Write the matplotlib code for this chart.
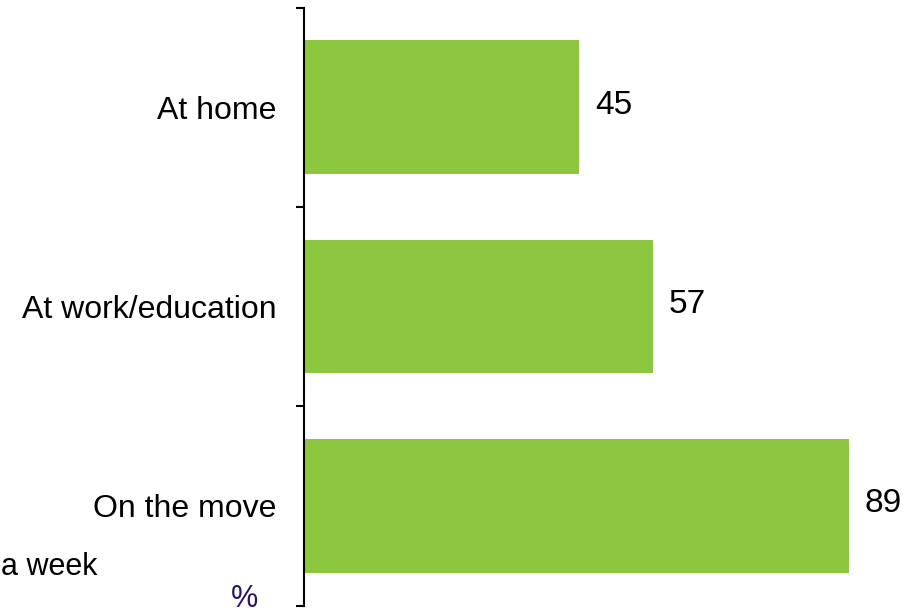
import matplotlib
matplotlib.use("Agg")
import matplotlib.pyplot as plt
import matplotlib.transforms as mtransforms
import numpy as np

# share of people using it in each place
places = ["At home", "At work/education", "On the move"]
shares = [45, 57, 89]

bar_green = "#8dc63f"
note_purple = "#2b1464"

plt.rcParams["font.family"] = ["Liberation Sans", "DejaVu Sans"]

fig = plt.figure(figsize=(9.2, 6.13), dpi=100)
ax = fig.add_axes([304 / 920, 7.5 / 613, 612 / 920, 598 / 613])

ypos = np.arange(len(places))
ax.barh(ypos, shares, height=0.67, color=bar_green, edgecolor="none")

for y, v in zip(ypos, shares):
    ax.annotate(str(v), xy=(v, y), xytext=(11.5, 1.5), textcoords="offset points",
                ha="left", va="center", fontsize=24, color="black")

ax.set_xlim(0, 100)
ax.set_ylim(len(places) - 0.5, -0.5)

# labels sit on the bar centres, ticks mark the category boundaries
ax.set_yticks(ypos)
ax.set_yticklabels(places, fontsize=23)
nudge = mtransforms.ScaledTranslation(0, 2 / 72, fig.dpi_scale_trans)
for lbl in ax.get_yticklabels():
    lbl.set_transform(lbl.get_transform() + nudge)
ax.tick_params(axis="y", which="major", length=0, pad=20)
ax.set_yticks(np.arange(len(places) + 1) - 0.5, minor=True)
ax.tick_params(axis="y", which="minor", length=6, width=1.5, direction="out")
ax.set_xticks([])

for side in ["top", "right", "bottom"]:
    ax.spines[side].set_visible(False)
ax.spines["left"].set_linewidth(1.5)

fig.text(1 / 920, 1 - 567 / 613, "a week", ha="left", va="center",
         fontsize=22, color="black")
fig.text(244 / 920, 1 - 599 / 613, "%", ha="center", va="center",
         fontsize=22, color=note_purple)

fig.savefig("out.png", dpi=100)
